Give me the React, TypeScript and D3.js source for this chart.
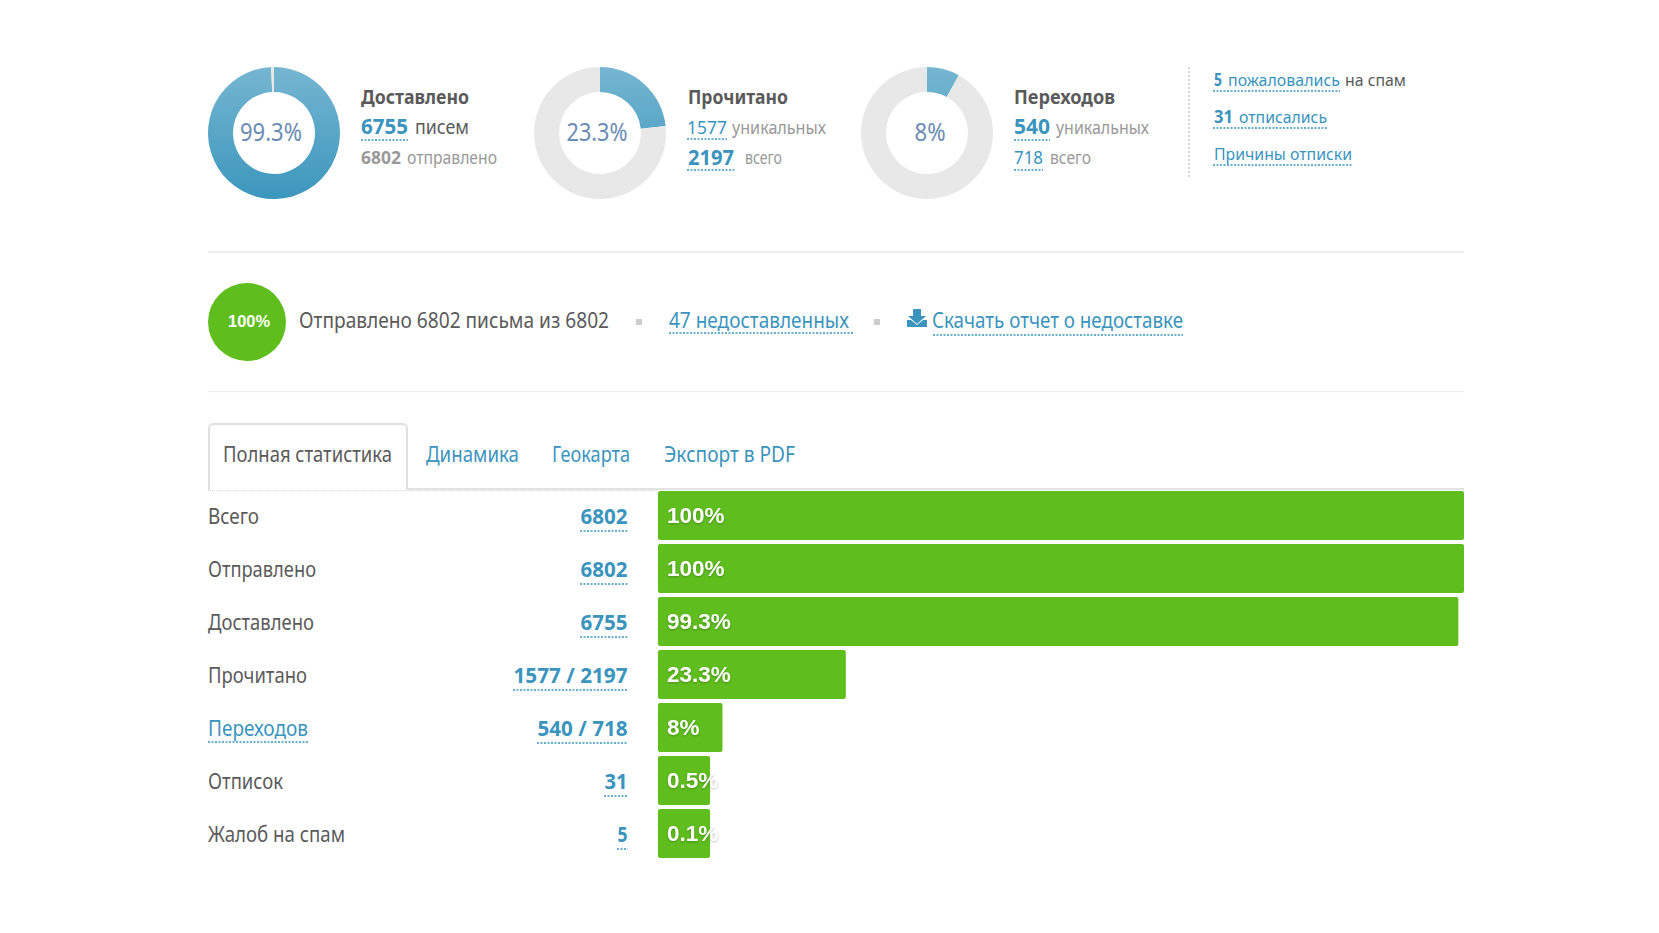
import React from 'react';
import * as d3 from 'd3';

const rowLabels = ['Всего', 'Отправлено', 'Доставлено', 'Прочитано', 'Переходов', 'Отписок', 'Жалоб на спам'];
const rowCounts = ['6802', '6802', '6755', '1577 / 2197', '540 / 718', '31', '5'];
const rowPercents = [100, 100, 99.3, 23.3, 8, 0.5, 0.1];
const rowPercentLabels = ['100%', '100%', '99.3%', '23.3%', '8%', '0.5%', '0.1%'];
// label / count pixel widths, measured on the reference because PT Sans is not installed
const rowLabelWidths = [51, 108, 106, 99, 100, 75, 137];
const rowCountWidths = [47, 47, 47, 114, 90, 23, 10];

const donutPercents = [99.3, 23.3, 8];
const donutLabels = ['99.3%', '23.3%', '8%'];

const tabs = ['Полная статистика', 'Динамика', 'Геокарта', 'Экспорт в PDF'];
const tabX = [223, 426, 552, 664];
const tabWidths = [169, 93, 78, 131];

const FONT = '"Noto Sans", sans-serif';
const BLUE = '#3a94bd';
const TEXT = '#5a5a5a';
const GREY = '#999999';
const GREEN = '#5fbe1e';

const x = d3.scaleLinear().domain([0, 100]).range([658, 1464]);
const y = d3.scaleBand<string>().domain(rowLabels).range([491, 858]).paddingInner(4 / 53);
const MIN_BAR = 52;

const arc = d3.arc<d3.PieArcDatum<number>>().innerRadius(41).outerRadius(66);
const pie = d3.pie<number>().sort(null);

type TProps = {
  x: number;
  y: number;
  w: number;
  size?: number;
  bold?: boolean;
  fill?: string;
  anchor?: 'start' | 'middle' | 'end';
  children: string;
};

const T = ({ x, y, w, size = 18, bold = false, fill = TEXT, anchor = 'start', children }: TProps) => (
  <text
    x={x}
    y={y}
    fontFamily={FONT}
    fontSize={size}
    fontWeight={bold ? 700 : 400}
    fill={fill}
    textAnchor={anchor}
    textLength={w}
    lengthAdjust="spacingAndGlyphs"
  >
    {children}
  </text>
);

const Dots = ({ x1, x2, y }: { x1: number; x2: number; y: number }) => (
  <line x1={x1} x2={x2} y1={y} y2={y} stroke={BLUE} strokeWidth={1.5} strokeDasharray="2 1.5" />
);

const Donut = ({ cx, index, labelX, labelW }: { cx: number; index: number; labelX: number; labelW: number }) => {
  const slices = pie([donutPercents[index], 100 - donutPercents[index]]);
  return (
    <g transform={`translate(${cx},133)`}>
      <path d={arc(slices[0]) || ''} fill="url(#donutFill)" />
      <path d={arc(slices[1]) || ''} fill="#e8e8e8" />
      <T x={labelX} y={8} w={labelW} size={25} fill="#6b8cb3" anchor="middle">
        {donutLabels[index]}
      </T>
    </g>
  );
};

export default function App() {
  return (
    <svg
      width={1659}
      height={933}
      style={{ position: 'absolute', left: 0, top: 0, display: 'block', background: '#fff' }}
    >
      <defs>
        <linearGradient id="donutFill" gradientUnits="userSpaceOnUse" x1={0} x2={0} y1={-66} y2={66}>
          <stop offset="0%" stopColor="#76b6d1" />
          <stop offset="100%" stopColor="#3c96bd" />
        </linearGradient>
      </defs>

      {/* donuts */}
      <Donut cx={274} index={0} labelX={-3} labelW={62} />
      <Donut cx={600} index={1} labelX={-3} labelW={61} />
      <Donut cx={927} index={2} labelX={3} labelW={31} />

      {/* delivered */}
      <T x={361} y={104} w={108} size={20} bold>Доставлено</T>
      <T x={361} y={134} w={47} size={21} bold fill={BLUE}>6755</T>
      <Dots x1={361} x2={408} y={140} />
      <T x={415} y={134} w={54} size={20}>писем</T>
      <T x={361} y={164} w={40} size={18} bold fill={GREY}>6802</T>
      <T x={407} y={164} w={90} size={18} fill={GREY}>отправлено</T>

      {/* read */}
      <T x={688} y={104} w={100} size={20} bold>Прочитано</T>
      <T x={687} y={134} w={40} size={18} fill={BLUE}>1577</T>
      <Dots x1={687} x2={727} y={139} />
      <T x={732} y={134} w={94} size={18} fill={GREY}>уникальных</T>
      <T x={688} y={165} w={46} size={21} bold fill={BLUE}>2197</T>
      <Dots x1={687} x2={735} y={170} />
      <T x={745} y={164} w={37} size={18} fill={GREY}>всего</T>

      {/* clicks */}
      <T x={1014} y={104} w={101} size={20} bold>Переходов</T>
      <T x={1014} y={134} w={36} size={21} bold fill={BLUE}>540</T>
      <Dots x1={1014} x2={1050} y={140} />
      <T x={1056} y={134} w={93} size={18} fill={GREY}>уникальных</T>
      <T x={1014} y={164} w={29} size={18} fill={BLUE}>718</T>
      <Dots x1={1014} x2={1043} y={170} />
      <T x={1050} y={164} w={41} size={18} fill={GREY}>всего</T>

      <line x1={1189} x2={1189} y1={67} y2={178} stroke="#c8c8c8" strokeWidth={1.5} strokeDasharray="2 2" />

      {/* complaints */}
      <T x={1214} y={86} w={8} size={17} bold fill={BLUE}>5</T>
      <T x={1228} y={86} w={112} size={17} fill={BLUE}>пожаловались</T>
      <T x={1345} y={86} w={61} size={17}>на спам</T>
      <Dots x1={1213} x2={1340} y={91} />
      <T x={1214} y={123} w={19} size={17} bold fill={BLUE}>31</T>
      <T x={1239} y={123} w={88} size={17} fill={BLUE}>отписались</T>
      <Dots x1={1213} x2={1327} y={128} />
      <T x={1214} y={160} w={138} size={17} fill={BLUE}>Причины отписки</T>
      <Dots x1={1213} x2={1352} y={165} />

      <line x1={208} x2={1464} y1={252} y2={252} stroke="#eeeeee" strokeWidth={2} />

      {/* sending status */}
      <circle cx={247} cy={322} r={39} fill={GREEN} />
      <text x={249} y={327} fontFamily='"Liberation Sans", Arial, sans-serif' fontWeight={700} fontSize={17} fill="#fff" textAnchor="middle" textLength={42} lengthAdjust="spacingAndGlyphs">100%</text>
      <T x={299} y={328} w={310} size={21}>Отправлено 6802 письма из 6802</T>
      <rect x={636} y={319} width={6} height={6} fill="#cccccc" />
      <T x={669} y={328} w={180} size={21} fill={BLUE}>47 недоставленных</T>
      <Dots x1={669} x2={853} y={333} />
      <rect x={874} y={319} width={6} height={6} fill="#cccccc" />
      <path d="M913 309h8v7h5l-9 8-9-8h5zM907 320h4l6 5 6-5h4v7h-20z" fill={BLUE} />
      <T x={932} y={328} w={251} size={21} fill={BLUE}>Скачать отчет о недоставке</T>
      <Dots x1={933} x2={1183} y={335} />

      <line x1={208} x2={1464} y1={391.5} y2={391.5} stroke="#f0f0f0" strokeWidth={1.5} />

      {/* tabs */}
      <line x1={407} x2={1464} y1={489} y2={489} stroke="#e3e3e3" strokeWidth={2} />
      <line x1={208} x2={658} y1={490.5} y2={490.5} stroke="#d8d8d8" strokeWidth={1} strokeDasharray="1 1" />
      <path d="M209 490V428a4 4 0 0 1 4-4H403a4 4 0 0 1 4 4V490" fill="#fff" stroke="#e0e0e0" strokeWidth={2} />
      {tabs.map((tab, i) => (
        <T key={tab} x={tabX[i]} y={462} w={tabWidths[i]} size={21} fill={i === 0 ? TEXT : BLUE}>
          {tab}
        </T>
      ))}

      {/* stats rows */}
      {rowLabels.map((label, i) => {
        const top = y(label)!;
        const textY = top + 33;
        const barW = Math.max(x(rowPercents[i]) - x(0), MIN_BAR);
        return (
          <g key={label}>
            <T x={208} y={textY} w={rowLabelWidths[i]} size={21} fill={label === 'Переходов' ? BLUE : TEXT}>
              {label}
            </T>
            {label === 'Переходов' && <Dots x1={208} x2={308} y={top + 39} />}
            <T x={627.5 - rowCountWidths[i]} y={textY} w={rowCountWidths[i]} size={21} bold fill={BLUE}>
              {rowCounts[i]}
            </T>
            <Dots x1={627 - rowCountWidths[i]} x2={628} y={top + 40} />
            <rect x={x(0)} y={top} width={barW} height={y.bandwidth()} rx={2} fill={GREEN} />
            <text
              x={667}
              y={top + 32}
              fontFamily='"Liberation Sans", Arial, sans-serif'
              fontWeight={700}
              fontSize={22.5}
              fill="#fff"
              style={{ filter: 'drop-shadow(0 1px 1px rgba(0,0,0,0.25))' }}
            >
              {rowPercentLabels[i]}
            </text>
          </g>
        );
      })}
    </svg>
  );
}
